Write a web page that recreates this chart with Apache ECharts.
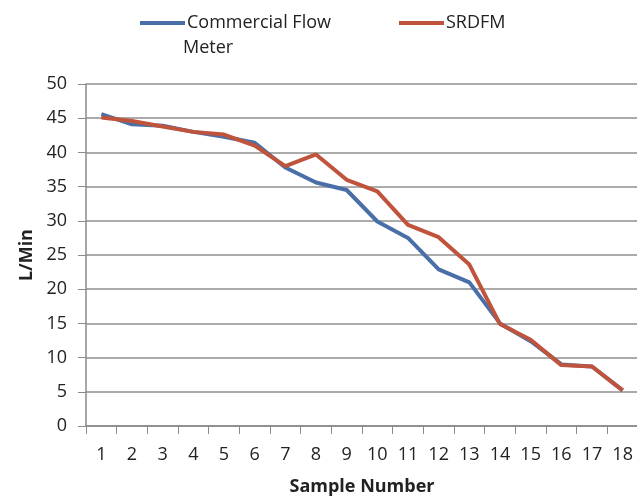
<!DOCTYPE html>
<html><head><meta charset="utf-8">
<script src="https://cdn.jsdelivr.net/npm/echarts@6/dist/echarts.min.js"></script>
<style>html,body{margin:0;padding:0;background:#fff}#c{width:637px;height:497px}</style>
</head><body><div id="c"></div>
<script>
const categories = ['1','2','3','4','5','6','7','8','9','10','11','12','13','14','15','16','17','18'];
const commercialFlowMeter = [45.6, 44.1, 43.9, 43.0, 42.3, 41.4, 37.8, 35.6, 34.5, 29.9, 27.5, 22.9, 21.0, 15.0, 12.4, 9.0, 8.7, 5.2];
const srdfm = [45.1, 44.6, 43.8, 43.0, 42.6, 41.0, 38.0, 39.7, 36.0, 34.3, 29.4, 27.6, 23.6, 14.9, 12.6, 8.9, 8.7, 5.2];
const yTicks = {min: 0, max: 50, interval: 5};

const font = '"Open Sans", "Liberation Sans", sans-serif';
const chart = echarts.init(document.getElementById('c'));
chart.setOption({
  animation: false,
  backgroundColor: '#fff',
  legend: [
    {data: ['Commercial Flow Meter'], left: 135, top: 9, itemWidth: 45, itemHeight: 4, icon: 'rect',
     formatter: () => 'Commercial Flow', itemGap: 2,
     textStyle: {fontFamily: font, fontSize: 18, color: '#222', padding: [0,0,0,-3]}},
    {data: ['SRDFM'], left: 394, top: 9, itemWidth: 45, itemHeight: 4, icon: 'rect',
     textStyle: {fontFamily: font, fontSize: 18, color: '#222', padding: [0,0,0,-3]}}
  ],
  graphic: [{type: 'text', left: 183, top: 39, style: {text: 'Meter', fontFamily: font, fontSize: 18, fill: '#222'}}],
  grid: {left: 86, right: -1, top: 84, bottom: 71, containLabel: false, outerBoundsMode: 'none'},
  xAxis: {
    type: 'category', data: categories, boundaryGap: true,
    name: 'Sample Number', nameLocation: 'middle', nameGap: 52,
    nameTextStyle: {fontFamily: font, fontSize: 18, fontWeight: 'bold', color: '#222'},
    axisLine: {lineStyle: {color: '#8a8a8a', width: 1.5}},
    axisTick: {show: true, length: 8, alignWithLabel: false, lineStyle: {color: '#8a8a8a'}},
    axisLabel: {fontFamily: font, fontSize: 18, color: '#222', margin: 20, interval: 0}
  },
  yAxis: {
    type: 'value', min: yTicks.min, max: yTicks.max, interval: yTicks.interval,
    name: 'L/Min', nameLocation: 'middle', nameGap: 50, nameRotate: 90,
    nameTextStyle: {fontFamily: font, fontSize: 18, fontWeight: 'bold', color: '#222'},
    axisLine: {show: true, lineStyle: {color: '#8a8a8a', width: 1.5}},
    axisTick: {show: true, length: 8, lineStyle: {color: '#8a8a8a'}},
    axisLabel: {fontFamily: font, fontSize: 18, color: '#222', margin: 19},
    splitLine: {lineStyle: {color: '#8f8f8f', width: 1.5}}
  },
  series: [
    {name: 'Commercial Flow Meter', type: 'line', data: commercialFlowMeter, showSymbol: false, symbol: 'none',
     lineStyle: {color: '#4A6FA8', width: 4}, itemStyle: {color: '#4A6FA8'}},
    {name: 'SRDFM', type: 'line', data: srdfm, showSymbol: false, symbol: 'none',
     lineStyle: {color: '#C0533C', width: 4}, itemStyle: {color: '#C0533C'}}
  ]
});
</script></body></html>
